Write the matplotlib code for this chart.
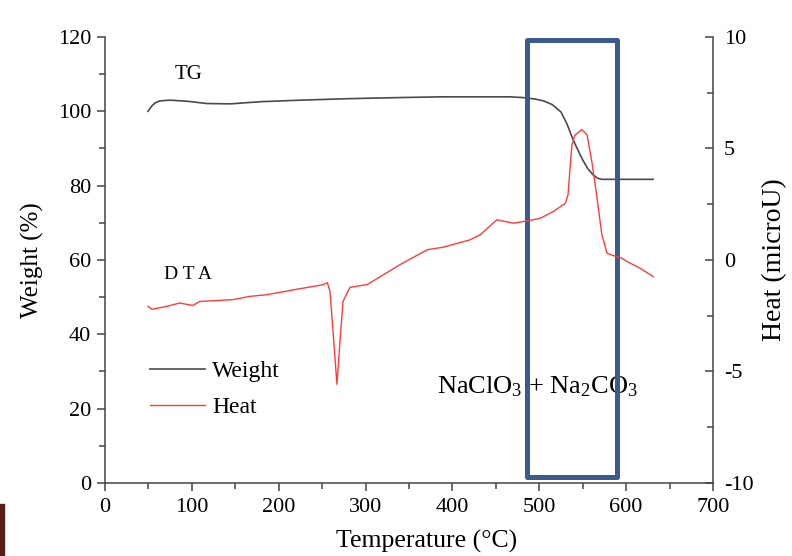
import matplotlib
matplotlib.use("Agg")
import matplotlib.pyplot as plt
from matplotlib.patches import Rectangle
from matplotlib.ticker import MultipleLocator

plt.rcParams['font.family'] = ['Liberation Serif', 'DejaVu Serif']
plt.rcParams['mathtext.fontset'] = 'custom'
plt.rcParams['mathtext.rm'] = 'Liberation Serif'
plt.rcParams['mathtext.default'] = 'regular'
plt.rcParams['axes.unicode_minus'] = False

# TG curve (weight %, left axis)
tg_temp = [49.5, 54, 58, 63, 75, 95, 117, 144, 180, 225, 280, 340, 388, 430, 466,
           481, 495, 505, 515, 525, 532, 539, 545, 550, 556, 562, 567, 572, 600, 631]
tg_weight = [100.0, 101.5, 102.3, 102.8, 103.0, 102.7, 102.1, 102.0, 102.6, 103.0, 103.4, 103.7, 103.9, 103.9, 103.9,
             103.7, 103.3, 102.8, 101.8, 99.8, 96.5, 92.3, 89.3, 86.9, 84.5, 82.9, 82.0, 81.7, 81.7, 81.7]

# DTA curve (heat, right axis)
dta_temp = [49.5, 54, 71, 86, 101, 109, 147, 167, 186, 224, 251, 256, 259, 262.5, 267,
            270.5, 274, 282, 302, 340, 371, 389, 420, 432, 451, 470, 486, 501, 516,
            530, 533, 537.5, 541, 549, 555, 560.5, 566, 572, 578, 585, 595, 601, 616, 631]
dta_heat = [-2.08, -2.21, -2.08, -1.93, -2.04, -1.86, -1.78, -1.63, -1.56, -1.29, -1.11, -1.02, -1.41, -3.2, -5.57,
            -3.65, -1.86, -1.23, -1.10, -0.2, 0.46, 0.57, 0.9, 1.13, 1.8, 1.65, 1.75, 1.87, 2.17,
            2.54, 2.92, 5.15, 5.6, 5.85, 5.6, 4.4, 2.92, 1.13, 0.3, 0.2, 0.08, -0.07, -0.37, -0.74]

fig = plt.figure(figsize=(7.92, 5.56), dpi=100)
ax = fig.add_axes([0.1326, 0.1313, 0.7677, 0.8022])
ax2 = ax.twinx()

spine_c = '#444444'
l1, = ax.plot(tg_temp, tg_weight, color='#4a4a4a', lw=1.2, label='Weight')
l2, = ax2.plot(dta_temp, dta_heat, color='#ff3b3b', lw=1.0, label='Heat')

ax.set_xlim(0, 700)
ax.set_ylim(0, 120)
ax2.set_ylim(-10, 10)

ax.xaxis.set_major_locator(MultipleLocator(100))
ax.xaxis.set_minor_locator(MultipleLocator(50))
ax.yaxis.set_major_locator(MultipleLocator(20))
ax.yaxis.set_minor_locator(MultipleLocator(10))
ax2.yaxis.set_major_locator(MultipleLocator(5))
ax2.yaxis.set_minor_locator(MultipleLocator(2.5))

for a in (ax, ax2):
    a.spines['top'].set_visible(False)
    for s in a.spines.values():
        s.set_color(spine_c)
        s.set_linewidth(1.1)
ax.spines['right'].set_visible(False)
ax2.spines['left'].set_visible(False)
ax2.spines['bottom'].set_visible(False)

ax.tick_params(axis='both', which='major', direction='out', length=6, width=1.1,
               color=spine_c, labelsize=16, pad=4)
ax.tick_params(axis='both', which='minor', direction='out', length=4.5, width=1.1, color=spine_c)
ax.tick_params(axis='x', pad=5)
ax2.tick_params(axis='y', which='major', direction='in', length=6, width=1.1,
                color=spine_c, labelsize=16, pad=8)
ax2.tick_params(axis='y', which='minor', direction='in', length=4.5, width=1.1, color=spine_c)

ax.set_xlabel('Temperature (°C)', fontsize=18.5, labelpad=9)
ax.xaxis.label.set_x(0.529)
ax.set_ylabel('Weight (%)', fontsize=18, labelpad=10)
ax2.set_ylabel('Heat (microU)', fontsize=20, labelpad=6)

ax.text(96, 110, 'TG', fontsize=15, ha='center', va='center')
ax.text(96, 56, 'D T A', fontsize=14, ha='center', va='center')
ax.text(498, 25.8, 'NaClO$_3$ + Na$_2$CO$_3$', fontsize=19, ha='center', va='center')

ax.add_patch(Rectangle((486, 1.6), 103, 117.6, fill=False, edgecolor='#3b5b8a',
                       lw=3.6, joinstyle='round', zorder=5))

ax.legend([l1, l2], ['Weight', 'Heat'], loc='center left', bbox_to_anchor=(0.074, 0.210),
          frameon=False, fontsize=17, borderpad=0, borderaxespad=0, handlelength=2.33,
          handletextpad=0.3, labelspacing=0.62)

fig.patches.append(Rectangle((0, 0), 3.5 / 792, 52 / 556, transform=fig.transFigure,
                             color='#5a1c1c', zorder=10))

fig.savefig('out.png', dpi=100)
